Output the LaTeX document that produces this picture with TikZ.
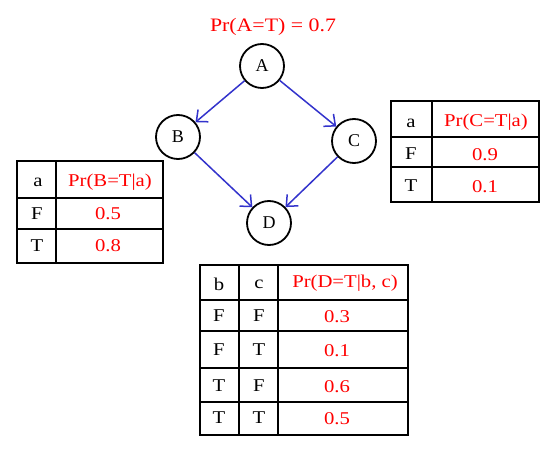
\documentclass[tikz,border=0pt]{standalone}
\usepackage{fontspec}
\setmainfont{Liberation Serif}
\newfontfamily\widefont{Liberation Serif}[FakeStretch=1.15]
\usetikzlibrary{arrows.meta}
\definecolor{arrblue}{RGB}{51,51,204}
\tikzset{
  bnode/.style={circle,draw=black,line width=1.8pt,minimum size=44pt,inner sep=0pt,font=\fontsize{18}{18}\selectfont},
  edge/.style={draw=arrblue,line width=1.5pt,-{Straight Barb[length=9pt,width=16pt,line width=1.5pt]}},
  tbl/.style={draw=black,line width=1.8pt},
  cell/.style={inner sep=0pt,font=\widefont\fontsize{18}{18}\selectfont},
  pcell/.style={cell,text=red},
}
\begin{document}
\begin{tikzpicture}[x=1pt,y=-1pt]
\useasboundingbox (0,0) rectangle (557,449);
\fill[white] (0,0) rectangle (557,449);
% network
\node[bnode] (A) at (262,66) {A};
\node[bnode] (B) at (178,137) {B};
\node[bnode] (C) at (354,141) {C};
\node[bnode] (D) at (269,223) {D};
\node[pcell,font=\widefont\fontsize{19}{19}\selectfont] (pa) at (273,27) {Pr(A=T) = 0.7};
\draw[edge] (A) -- (B);
\draw[edge] (A) -- (C);
\draw[edge] (B) -- (D);
\draw[edge] (C) -- (D);
% table B
\draw[tbl] (17,161) rectangle (163,263);
\draw[tbl] (56,161) -- (56,263);
\draw[tbl] (17,198) -- (163,198);
\draw[tbl] (17,229) -- (163,229);
\node[cell] (tba) at (38,182) {a};
\node[pcell] (tbh) at (110,182) {Pr(B=T|a)};
\node[cell] (tbf) at (37,214) {F};
\node[pcell] (tbfv) at (108,214) {0.5};
\node[cell] (tbt) at (37,246) {T};
\node[pcell] (tbtv) at (108,246) {0.8};
% table C
\draw[tbl] (391,101) rectangle (539,202);
\draw[tbl] (432,101) -- (432,202);
\draw[tbl] (391,137) -- (539,137);
\draw[tbl] (391,167) -- (539,167);
\node[cell] (tca) at (411,123) {a};
\node[pcell] (tch) at (486,122) {Pr(C=T|a)};
\node[cell] (tcf) at (411,154) {F};
\node[pcell] (tcfv) at (485,155) {0.9};
\node[cell] (tct) at (411,186) {T};
\node[pcell] (tctv) at (485,187) {0.1};
% table D
\draw[tbl] (200,265) rectangle (408,435);
\draw[tbl] (239,265) -- (239,435);
\draw[tbl] (278,265) -- (278,435);
\draw[tbl] (200,300) -- (408,300);
\draw[tbl] (200,331) -- (408,331);
\draw[tbl] (200,368) -- (408,368);
\draw[tbl] (200,402) -- (408,402);
\node[cell] (tdb) at (219,284) {b};
\node[cell] (tdc) at (259,284) {c};
\node[pcell] (tdh) at (345,283) {Pr(D=T|b, c)};
\node[cell] (td1b) at (219,316) {F};
\node[cell] (td1c) at (259,316) {F};
\node[pcell] (td1v) at (337,317) {0.3};
\node[cell] (td2b) at (219,350) {F};
\node[cell] (td2c) at (259,350) {T};
\node[pcell] (td2v) at (337,351) {0.1};
\node[cell] (td3b) at (219,386) {T};
\node[cell] (td3c) at (259,386) {F};
\node[pcell] (td3v) at (337,387) {0.6};
\node[cell] (td4b) at (219,418) {T};
\node[cell] (td4c) at (259,418) {T};
\node[pcell] (td4v) at (337,419) {0.5};
\end{tikzpicture}
\end{document}
